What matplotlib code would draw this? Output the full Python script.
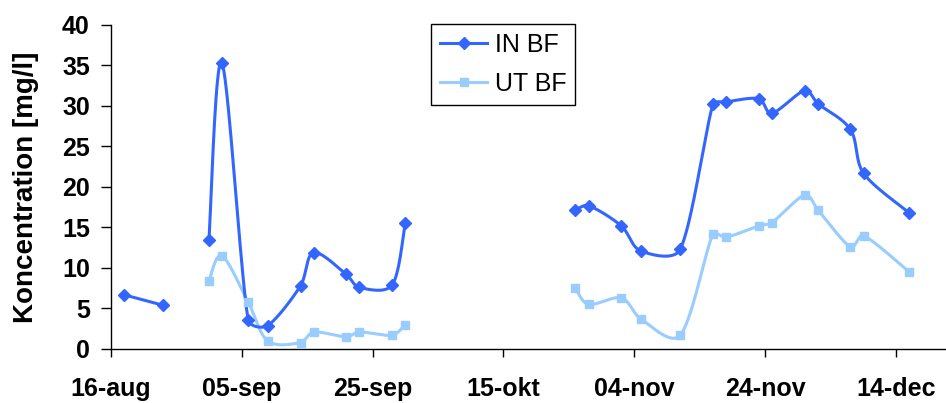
import numpy as np
import pandas as pd
import matplotlib
matplotlib.use("Agg")
import matplotlib.pyplot as plt
import matplotlib.dates as mdates

# measurement dates (None marks a gap in the series)
in_dates = ["2005-08-18", "2005-08-24", None,
            "2005-08-31", "2005-09-02", "2005-09-06", "2005-09-09", "2005-09-14",
            "2005-09-16", "2005-09-21", "2005-09-23", "2005-09-28", "2005-09-30", None,
            "2005-10-26", "2005-10-28", "2005-11-02", "2005-11-05", "2005-11-11",
            "2005-11-16", "2005-11-18", "2005-11-23", "2005-11-25", "2005-11-30",
            "2005-12-02", "2005-12-07", "2005-12-09", "2005-12-16"]
in_bf = [6.7, 5.4, None,
         13.4, 35.3, 3.6, 2.9, 7.8, 11.9, 9.2, 7.6, 7.9, 15.6, None,
         17.2, 17.7, 15.2, 12.1, 12.3, 30.2, 30.5, 30.9, 29.1, 31.9,
         30.3, 27.1, 21.7, 16.8]

ut_dates = ["2005-08-31", "2005-09-02", "2005-09-06", "2005-09-09", "2005-09-14",
            "2005-09-16", "2005-09-21", "2005-09-23", "2005-09-28", "2005-09-30", None,
            "2005-10-26", "2005-10-28", "2005-11-02", "2005-11-05", "2005-11-11",
            "2005-11-16", "2005-11-18", "2005-11-23", "2005-11-25", "2005-11-30",
            "2005-12-02", "2005-12-07", "2005-12-09", "2005-12-16"]
ut_bf = [8.4, 11.5, 5.8, 1.0, 0.8, 2.1, 1.5, 2.1, 1.7, 3.0, None,
         7.5, 5.5, 6.3, 3.7, 1.7, 14.2, 13.8, 15.2, 15.6, 19.0,
         17.2, 12.6, 14.0, 9.5]

tick_dates = ["2005-08-16", "2005-09-05", "2005-09-25", "2005-10-15",
              "2005-11-04", "2005-11-24", "2005-12-14"]
tick_labels = ["16-aug", "05-sep", "25-sep", "15-okt", "04-nov", "24-nov", "14-dec"]


def segments(dates, vals):
    # split at None markers into continuous pieces
    segs, xs, ys = [], [], []
    for d, v in zip(dates, vals):
        if d is None:
            if xs:
                segs.append((np.array(xs), np.array(ys)))
            xs, ys = [], []
        else:
            xs.append(mdates.date2num(pd.Timestamp(d)))
            ys.append(v)
    if xs:
        segs.append((np.array(xs), np.array(ys)))
    return segs


def smooth(x, y, sx, sy, n=30):
    # Excel-like smoothed line: catmull-rom bezier handles,
    # each handle clamped to a third of its segment (pixel space)
    if len(x) < 3:
        return x, y
    p = np.column_stack([x * sx, y * sy])
    m = len(p)
    tang = np.array([(p[min(i + 1, m - 1)] - p[max(i - 1, 0)]) / 6.0 for i in range(m)])
    out = [p[:1]]
    t = np.linspace(0, 1, n)[1:, None]
    for i in range(m - 1):
        p0, p3 = p[i], p[i + 1]
        lim = np.hypot(*(p3 - p0)) / 3.0
        h1, h2 = tang[i].copy(), tang[i + 1].copy()
        for h in (h1, h2):
            ln = np.hypot(*h)
            if ln > lim:
                h *= lim / ln
        c1 = p0 + h1
        c2 = p3 - h2
        b = ((1 - t) ** 3) * p0 + 3 * ((1 - t) ** 2) * t * c1 + 3 * (1 - t) * t ** 2 * c2 + t ** 3 * p3
        out.append(b)
    out = np.vstack(out)
    return out[:, 0] / sx, out[:, 1] / sy


plt.rcParams['font.family'] = ['Liberation Sans', 'DejaVu Sans']

fig = plt.figure(figsize=(9.46, 4.03), dpi=100)
ax = fig.add_axes([0.117, 0.134, 0.883, 0.804])

x0 = mdates.date2num(pd.Timestamp("2005-08-16"))
ax.set_xlim(x0, x0 + 127.6)
ax.set_ylim(0, 40)

# pixels per data unit, for the smoothing
bb = ax.get_window_extent()
px_x = bb.width / 127.6
px_y = bb.height / 40.0

series = [
    (in_dates, in_bf, "#3366FF", "D", 6.5, "IN BF"),
    (ut_dates, ut_bf, "#99CCFF", "s", 6.0, "UT BF"),
]
for dates, vals, color, marker, ms, label in reversed(series):
    for x, y in segments(dates, vals):
        sx_, sy_ = smooth(x, y, px_x, px_y)
        ax.plot(sx_, sy_, color=color, lw=2.2, solid_joinstyle='round', zorder=2)
        ax.plot(x, y, ls='none', marker=marker, ms=ms, color=color, mec=color, zorder=3)

handles = [plt.Line2D([], [], color=c, lw=2.2, marker=m, ms=ms, mec=c)
           for _, _, c, m, ms, _ in series]
leg = ax.legend(handles, [s[5] for s in series], loc='upper left',
                bbox_to_anchor=(0.3835, 1.003), borderaxespad=0, fontsize=18,
                frameon=True, fancybox=False, edgecolor='black', framealpha=1,
                handlelength=1.9, handletextpad=0.3, borderpad=0.35,
                labelspacing=0.6)
leg.get_frame().set_linewidth(1.0)

ax.set_yticks(np.arange(0, 41, 5))
ax.set_xticks([mdates.date2num(pd.Timestamp(d)) for d in tick_dates])
ax.set_xticklabels(tick_labels)

for sp in ['top', 'right']:
    ax.spines[sp].set_visible(False)
for sp in ['left', 'bottom']:
    ax.spines[sp].set_color('black')
    ax.spines[sp].set_linewidth(1.0)

ax.tick_params(axis='y', direction='out', length=7, width=1, pad=8, labelsize=18)
ax.tick_params(axis='x', direction='out', length=6, width=1, pad=14, labelsize=18)
for lab in ax.get_xticklabels() + ax.get_yticklabels():
    lab.set_fontweight('bold')

ax.set_ylabel("Koncentration [mg/l]", fontsize=20, fontweight='bold')
ax.yaxis.set_label_coords(-0.086, 0.5)

fig.savefig("out.png", dpi=100)
